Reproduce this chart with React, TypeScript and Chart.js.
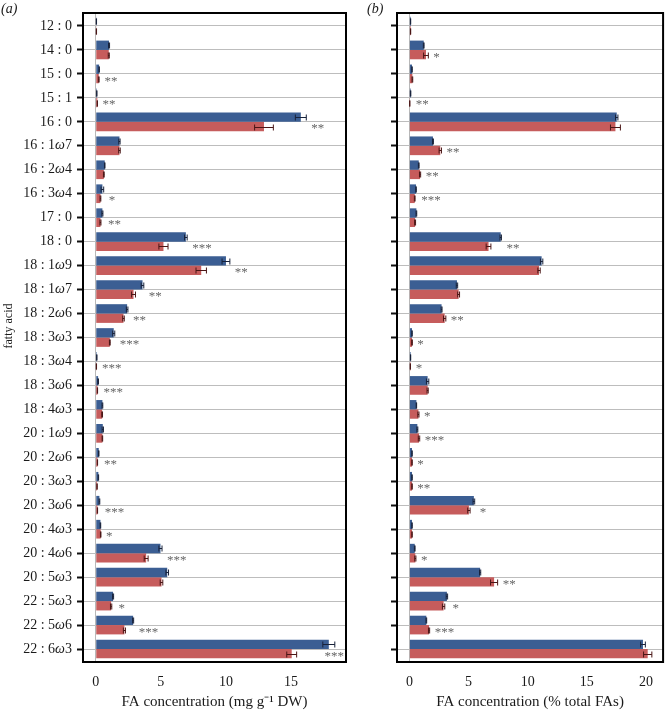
import React, { useEffect, useRef } from 'react';
import { Chart, registerables } from 'chart.js';

Chart.register(...registerables);

const categories = [
  '12:0', '14:0', '15:0', '15:1', '16:0', '16:1ω7', '16:2ω4', '16:3ω4', '17:0',
  '18:0', '18:1ω9', '18:1ω7', '18:2ω6', '18:3ω3', '18:3ω4', '18:3ω6', '18:4ω3',
  '20:1ω9', '20:2ω6', '20:3ω3', '20:3ω6', '20:4ω3', '20:4ω6', '20:5ω3',
  '22:5ω3', '22:5ω6', '22:6ω3',
];

// panel (a): FA concentration (mg g-1 DW)
const concBlue = [0.05, 1.02, 0.26, 0.08, 15.75, 1.82, 0.69, 0.51, 0.51, 6.92, 10.0, 3.59, 2.41, 1.38, 0.08, 0.18, 0.51, 0.54, 0.23, 0.2, 0.28, 0.36, 4.97, 5.49, 1.33, 2.87, 17.9];
const concBlueErr = [0.01, 0.04, 0.02, 0.01, 0.42, 0.05, 0.02, 0.1, 0.04, 0.1, 0.3, 0.1, 0.06, 0.08, 0.01, 0.03, 0.03, 0.05, 0.02, 0.02, 0.03, 0.02, 0.12, 0.1, 0.04, 0.04, 0.46];
const concRed = [0.05, 1.0, 0.23, 0.12, 12.92, 1.82, 0.62, 0.36, 0.36, 5.2, 8.1, 2.9, 2.13, 1.08, 0.05, 0.13, 0.49, 0.51, 0.13, 0.1, 0.13, 0.38, 3.87, 5.05, 1.18, 2.2, 15.05];
const concRedErr = [0.01, 0.04, 0.03, 0.01, 0.72, 0.06, 0.03, 0.03, 0.04, 0.35, 0.4, 0.15, 0.06, 0.03, 0.01, 0.01, 0.03, 0.02, 0.01, 0.01, 0.01, 0.02, 0.15, 0.1, 0.05, 0.08, 0.38];
const concSig = ['', '', '**', '**', '**', '', '', '*', '**', '***', '**', '**', '**', '***', '***', '***', '', '', '**', '', '***', '*', '***', '', '*', '***', '***'];
const concTicks = [0, 5, 10, 15];

// panel (b): FA concentration (% total FAs)
const pctBlue = [0.1, 1.21, 0.22, 0.1, 17.53, 1.99, 0.79, 0.56, 0.59, 7.72, 11.18, 4.02, 2.72, 0.22, 0.1, 1.54, 0.59, 0.67, 0.22, 0.22, 5.45, 0.22, 0.45, 5.98, 3.17, 1.43, 19.75];
const pctBlueErr = [0.01, 0.03, 0.02, 0.02, 0.1, 0.04, 0.03, 0.02, 0.03, 0.06, 0.1, 0.06, 0.04, 0.02, 0.01, 0.1, 0.02, 0.04, 0.02, 0.02, 0.07, 0.02, 0.03, 0.05, 0.06, 0.03, 0.2];
const pctRed = [0.1, 1.4, 0.25, 0.03, 17.42, 2.61, 0.9, 0.45, 0.48, 6.69, 10.96, 4.16, 2.98, 0.22, 0.08, 1.54, 0.76, 0.81, 0.22, 0.22, 5.03, 0.22, 0.5, 7.16, 2.89, 1.66, 20.15];
const pctRedErr = [0.01, 0.2, 0.03, 0.01, 0.42, 0.1, 0.05, 0.03, 0.04, 0.2, 0.1, 0.08, 0.1, 0.03, 0.01, 0.05, 0.05, 0.06, 0.02, 0.02, 0.1, 0.02, 0.05, 0.3, 0.1, 0.05, 0.35];
const pctSig = ['', '*', '', '**', '', '**', '**', '***', '', '**', '', '', '**', '*', '*', '', '*', '***', '*', '**', '*', '', '*', '**', '*', '***', ''];
const pctTicks = [0, 5, 10, 15, 20];

const SERIF = '"Liberation Serif", "Times New Roman", Times, serif';
const BLUE = '#3b5e93';
const RED = '#c65c5c';
const TEXT = '#1a1a1a';

type Panel = {
  tag: string;
  blue: number[];
  blueErr: number[];
  red: number[];
  redErr: number[];
  sig: string[];
  ticks: number[];
  min: number;
  max: number;
  xTitle: string;
  yWidth: number;
  padRight: number;
  showLabels: boolean;
  tagX: number;
};

function makePlugin(p: Panel) {
  return {
    id: 'panelDecor' + p.tag,
    afterDatasetsDraw(chart: any) {
      const ctx = chart.ctx;
      const xs = chart.scales.x;
      const area = chart.chartArea;
      const metaB = chart.getDatasetMeta(0);
      const metaR = chart.getDatasetMeta(1);
      ctx.save();
      const sets: [any, number[], number[], string][] = [
        [metaB, p.blue, p.blueErr, '#18223a'],
        [metaR, p.red, p.redErr, '#4a1616'],
      ];
      sets.forEach(([meta, vals, errs, col]) => {
        meta.data.forEach((bar: any, i: number) => {
          const e = errs[i];
          if (!e) return;
          const x1 = xs.getPixelForValue(vals[i] - e);
          const x2 = xs.getPixelForValue(vals[i] + e);
          const y = Math.round(bar.y) + 0.5;
          ctx.strokeStyle = col;
          ctx.lineWidth = 1;
          ctx.beginPath();
          ctx.moveTo(x1, y);
          ctx.lineTo(x2, y);
          ctx.moveTo(x1, y - 3);
          ctx.lineTo(x1, y + 3);
          ctx.moveTo(x2, y - 3);
          ctx.lineTo(x2, y + 3);
          ctx.stroke();
        });
      });
      ctx.font = `13px ${SERIF}`;
      ctx.fillStyle = '#666';
      ctx.textBaseline = 'middle';
      ctx.textAlign = 'left';
      p.sig.forEach((s, i) => {
        if (!s) return;
        const end = Math.max(p.blue[i] + p.blueErr[i], p.red[i] + p.redErr[i]);
        const w = ctx.measureText(s).width;
        let px = xs.getPixelForValue(end) + 5;
        if (px + w > area.right - 2) px = area.right - 2 - w;
        ctx.fillText(s, px, metaR.data[i].y + 2.5);
      });
      ctx.restore();
    },
    afterDraw(chart: any) {
      const ctx = chart.ctx;
      const area = chart.chartArea;
      ctx.save();
      ctx.strokeStyle = '#000';
      ctx.lineWidth = 2;
      ctx.strokeRect(area.left, area.top - 1, area.right - area.left, area.bottom - area.top + 2);

      ctx.fillStyle = TEXT;
      ctx.font = `italic 14px ${SERIF}`;
      ctx.textBaseline = 'middle';
      ctx.textAlign = 'left';
      ctx.fillText(p.tag, p.tagX, 9.5);

      if (p.showLabels) {
        const ys = chart.scales.y;
        const fN = `14px ${SERIF}`;
        const fI = `italic 14px ${SERIF}`;
        const xr = area.left - 11;
        categories.forEach((lab, i) => {
          const y = ys.getPixelForTick(i);
          const parts = lab.split('ω');
          const pre = parts[0].replace(':', ' : ');
          ctx.textBaseline = 'middle';
          if (parts.length > 1) {
            const tail = parts[1];
            ctx.font = fN;
            const wt = ctx.measureText(tail).width;
            const wp = ctx.measureText(pre).width;
            ctx.font = fI;
            const wo = ctx.measureText('ω').width;
            const x0 = xr - wt - wo - wp;
            ctx.textAlign = 'left';
            ctx.font = fN;
            ctx.fillText(pre, x0, y);
            ctx.font = fI;
            ctx.fillText('ω', x0 + wp, y);
            ctx.font = fN;
            ctx.fillText(tail, x0 + wp + wo, y);
          } else {
            ctx.font = fN;
            ctx.textAlign = 'right';
            ctx.fillText(pre, xr, y);
          }
        });
        ctx.save();
        ctx.translate(9, 326);
        ctx.rotate(-Math.PI / 2);
        ctx.font = `12px ${SERIF}`;
        ctx.textAlign = 'center';
        ctx.textBaseline = 'middle';
        ctx.fillText('fatty acid', 0, 0);
        ctx.restore();
      }
      ctx.restore();
    },
  };
}

function buildConfig(p: Panel): any {
  return {
    type: 'bar',
    data: {
      labels: categories,
      datasets: [
        { label: 'group 1', data: p.blue, backgroundColor: BLUE, categoryPercentage: 0.78, barPercentage: 1 },
        { label: 'group 2', data: p.red, backgroundColor: RED, categoryPercentage: 0.78, barPercentage: 1 },
      ],
    },
    options: {
      indexAxis: 'y',
      responsive: false,
      maintainAspectRatio: false,
      animation: false,
      devicePixelRatio: 1,
      layout: { padding: { top: 14, right: p.padRight, left: 0, bottom: 0 } },
      plugins: { legend: { display: false }, tooltip: { enabled: false } },
      scales: {
        x: {
          type: 'linear',
          min: p.min,
          max: p.max,
          afterBuildTicks: (s: any) => {
            s.ticks = p.ticks.map((v) => ({ value: v }));
          },
          afterFit: (s: any) => {
            s.height = 50;
          },
          grid: {
            drawTicks: false,
            lineWidth: 1,
            color: (c: any) => (c.tick && c.tick.value === 0 ? '#b8b8b8' : 'rgba(0,0,0,0)'),
          },
          border: { display: false },
          ticks: { font: { family: SERIF, size: 14 }, color: TEXT, padding: 13, maxRotation: 0 },
          title: {
            display: true,
            text: p.xTitle,
            font: { family: SERIF, size: 15 },
            color: TEXT,
            padding: { top: 0, bottom: 0 },
          },
        },
        y: {
          type: 'category',
          afterFit: (s: any) => {
            s.width = p.yWidth;
          },
          grid: {
            offset: false,
            color: '#bdbdbd',
            lineWidth: 1,
            tickColor: '#111',
            tickLength: 6,
            tickWidth: 2,
          },
          border: { display: false },
          ticks: { display: false },
        },
      },
    },
    plugins: [makePlugin(p)],
  };
}

const panelA: Panel = {
  tag: '(a)',
  blue: concBlue,
  blueErr: concBlueErr,
  red: concRed,
  redErr: concRedErr,
  sig: concSig,
  ticks: concTicks,
  min: -0.98,
  max: 19.22,
  xTitle: 'FA concentration (mg g⁻¹ DW)',
  yWidth: 83,
  padRight: 4,
  showLabels: true,
  tagX: 1,
};

const panelB: Panel = {
  tag: '(b)',
  blue: pctBlue,
  blueErr: pctBlueErr,
  red: pctRed,
  redErr: pctRedErr,
  sig: pctSig,
  ticks: pctTicks,
  min: -1.05,
  max: 21.45,
  xTitle: 'FA concentration (% total FAs)',
  yWidth: 47,
  padRight: 1,
  showLabels: false,
  tagX: 17,
};

export default function App() {
  const refA = useRef<HTMLCanvasElement>(null);
  const refB = useRef<HTMLCanvasElement>(null);

  useEffect(() => {
    const a = new Chart(refA.current as HTMLCanvasElement, buildConfig(panelA));
    const b = new Chart(refB.current as HTMLCanvasElement, buildConfig(panelB));
    return () => {
      a.destroy();
      b.destroy();
    };
  }, []);

  return (
    <div style={{ position: 'absolute', left: 0, top: 0, width: 666, height: 711, background: '#fff' }}>
      <canvas ref={refA} width={350} height={711} style={{ position: 'absolute', left: 0, top: 0, width: 350, height: 711 }} />
      <canvas ref={refB} width={316} height={711} style={{ position: 'absolute', left: 350, top: 0, width: 316, height: 711 }} />
    </div>
  );
}
